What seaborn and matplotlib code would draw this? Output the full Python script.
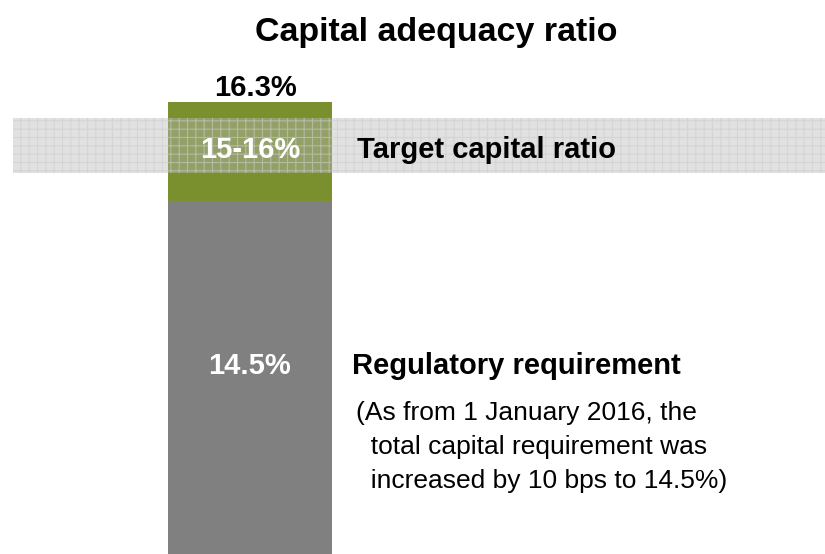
import matplotlib
matplotlib.use("Agg")
import matplotlib.pyplot as plt
import seaborn as sns
import pandas as pd

# ---- data ----
categories = ["Capital adequacy ratio"]
total_ratio = [16.3]
regulatory_req = [14.5]
target_low = 15.0
target_high = 16.0

title = "Capital adequacy ratio"
total_label = "16.3%"
target_label = "15-16%"
target_text = "Target capital ratio"
req_label = "14.5%"
req_text = "Regulatory requirement"
note_lines = ["(As from 1 January 2016, the",
              "  total capital requirement was",
              "  increased by 10 bps to 14.5%)"]

GREEN = "#7a8f2e"
GREY = "#808080"

sns.set_theme(style="white")
plt.rcParams["font.family"] = ["Liberation Sans", "DejaVu Sans"]
plt.rcParams["hatch.linewidth"] = 0.8

W, H = 825, 554
fig = plt.figure(figsize=(W / 100, H / 100), dpi=100)
ax = fig.add_axes([0, 0, 1, 1])

df_total = pd.DataFrame({"cat": categories, "val": total_ratio})
df_req = pd.DataFrame({"cat": categories, "val": regulatory_req})
sns.barplot(data=df_total, x="cat", y="val", color=GREEN, saturation=1, width=0.8,
            ax=ax, zorder=1, linewidth=0, edgecolor=GREEN)
sns.barplot(data=df_req, x="cat", y="val", color=GREY, saturation=1, width=0.8,
            ax=ax, zorder=1, linewidth=0, edgecolor=GREY)

ax.set_ylim(8.08, 8.08 + H / 55.0)
ax.set_xlim(-250 / 205, 575 / 205)

band = ax.axhspan(target_low, target_high, xmin=13 / W, xmax=1,
                  facecolor=(0.72, 0.72, 0.72, 0.42),
                  edgecolor=(0.80, 0.80, 0.80, 0.6), linewidth=0,
                  hatch="++", zorder=3)

for s in ax.spines.values():
    s.set_visible(False)
ax.set_xticks([])
ax.set_yticks([])
ax.set_xlabel("")
ax.set_ylabel("")

def put(x, y, s, **kw):
    ax.text(x / W, 1 - y / H, s, transform=ax.transAxes, **kw)

put(436, 33, title, ha="center", va="center", fontsize=24.5, fontweight="bold", color="black")
put(256, 88, total_label, ha="center", va="center", fontsize=21, fontweight="bold", color="black", zorder=5)
put(250, 150, target_label, ha="center", va="center", fontsize=21, fontweight="bold", color="white", zorder=5)
put(357, 150, target_text, ha="left", va="center", fontsize=21, fontweight="bold", color="black", zorder=5)
put(250, 366, req_label, ha="center", va="center", fontsize=21, fontweight="bold", color="white", zorder=5)
put(352, 366, req_text, ha="left", va="center", fontsize=21, fontweight="bold", color="black", zorder=5)
for i, line in enumerate(note_lines):
    put(356, 413 + 34 * i, line, ha="left", va="center", fontsize=19, color="black", zorder=5)

fig.savefig("out.png", dpi=100)
